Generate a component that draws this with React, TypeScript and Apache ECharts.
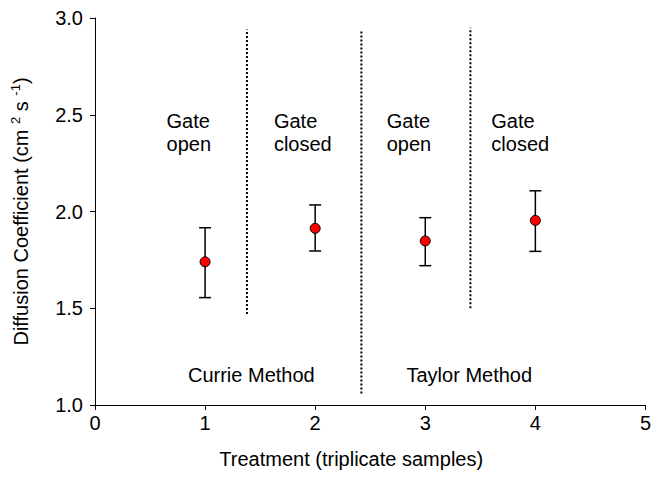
import React, { useEffect, useRef } from "react";
import * as echarts from "echarts";

const treatments = [1, 2, 3, 4];
const meanValues = [1.74, 1.913, 1.848, 1.954];
const lowerValues = [1.555, 1.796, 1.72, 1.794];
const upperValues = [1.916, 2.034, 1.968, 2.107];

const dividerX = [1.38, 2.42, 3.41];
const dividerTop = [2.94, 2.94, 2.95];
const dividerBottom = [1.47, 1.06, 1.5];

const gateLabels = ["Gate\nopen", "Gate\nclosed", "Gate\nopen", "Gate\nclosed"];
const gateLabelX = [0.65, 1.625, 2.65, 3.6];
const gateLabelY = [2.41, 2.41, 2.41, 2.41];

const methodLabels = ["Currie Method", "Taylor Method"];
const methodLabelX = [1.42, 3.4];
const methodLabelY = [1.155, 1.155];

const xTicks = [0, 1, 2, 3, 4, 5];
const yTicks = [1.0, 1.5, 2.0, 2.5, 3.0];

const FONT = "Liberation Sans, Arial, sans-serif";
const FS = 20;

export default function App() {
  const ref = useRef<HTMLDivElement>(null);
  useEffect(() => {
    if (!ref.current) return;
    const chart = echarts.init(ref.current, undefined, { renderer: "svg" });

    const dividerSeries = dividerX.map((x, i) => ({
      type: "line",
      data: [
        [x, dividerBottom[i]],
        [x, dividerTop[i]],
      ],
      symbol: "none",
      silent: true,
      lineStyle: { color: "#000", width: 2, type: [2, 2] },
      z: 2,
    }));

    chart.setOption({
      animation: false,
      textStyle: { fontFamily: FONT },
      grid: { left: 95, right: 6, top: 18, bottom: 81 },
      xAxis: {
        type: "value",
        min: xTicks[0],
        max: xTicks[xTicks.length - 1],
        interval: 1,
        splitLine: { show: false },
        axisLine: { onZero: false, lineStyle: { color: "#000", width: 1 } },
        axisTick: { show: true, inside: false, length: 5, lineStyle: { color: "#000" } },
        axisLabel: { color: "#000", fontSize: FS, fontFamily: FONT, margin: 8 },
        name: "Treatment (triplicate samples)",
        nameLocation: "middle",
        nameGap: 44,
        nameTextStyle: { color: "#000", fontSize: FS, fontFamily: FONT, padding: [0, 38, 0, 0] },
      },
      yAxis: {
        type: "value",
        min: yTicks[0],
        max: yTicks[yTicks.length - 1],
        interval: 0.5,
        splitLine: { show: false },
        axisLine: { show: true, lineStyle: { color: "#000", width: 1 } },
        axisTick: { show: true, inside: false, length: 5, lineStyle: { color: "#000" } },
        axisLabel: {
          color: "#000",
          fontSize: FS,
          fontFamily: FONT,
          margin: 12,
          formatter: (v: number) => v.toFixed(1),
        },
        name: "Diffusion Coefficient (cm {sup|2} s {sup|-1})",
        nameLocation: "middle",
        nameRotate: 90,
        nameGap: 62,
        nameTextStyle: {
          color: "#000",
          fontSize: FS,
          fontFamily: FONT,
          lineHeight: 24,
          rich: {
            sup: { fontSize: 13, fontFamily: FONT, color: "#000", verticalAlign: "top", lineHeight: 24 },
          },
        },
      },
      series: [
        ...dividerSeries,
        {
          type: "custom",
          name: "errors",
          silent: true,
          z: 3,
          data: treatments.map((t, i) => [t, lowerValues[i], upperValues[i]]),
          renderItem: (params: any, api: any) => {
            const x = api.value(0);
            const lo = api.coord([x, api.value(1)]);
            const hi = api.coord([x, api.value(2)]);
            const w = 6;
            const style = { stroke: "#000", lineWidth: 1.5 };
            return {
              type: "group",
              children: [
                { type: "line", shape: { x1: lo[0], y1: lo[1], x2: hi[0], y2: hi[1] }, style },
                { type: "line", shape: { x1: hi[0] - w, y1: hi[1], x2: hi[0] + w, y2: hi[1] }, style },
                { type: "line", shape: { x1: lo[0] - w, y1: lo[1], x2: lo[0] + w, y2: lo[1] }, style },
              ],
            };
          },
        },
        {
          type: "scatter",
          name: "mean",
          z: 5,
          symbol: "circle",
          symbolSize: 10,
          itemStyle: { color: "#ff0000", borderColor: "#000", borderWidth: 1, opacity: 1 },
          data: treatments.map((t, i) => [t, meanValues[i]]),
        },
        {
          type: "scatter",
          name: "gateLabels",
          silent: true,
          symbolSize: 0,
          itemStyle: { opacity: 1 },
          data: gateLabels.map((s, i) => [gateLabelX[i], gateLabelY[i], s]),
          label: {
            show: true,
            position: "inside",
            align: "left",
            verticalAlign: "middle",
            color: "#000",
            opacity: 1,
            fontSize: FS,
            fontFamily: FONT,
            lineHeight: 23,
            formatter: (p: any) => p.data[2],
          },
        },
        {
          type: "scatter",
          name: "methodLabels",
          silent: true,
          symbolSize: 0,
          itemStyle: { opacity: 1 },
          data: methodLabels.map((s, i) => [methodLabelX[i], methodLabelY[i], s]),
          label: {
            show: true,
            position: "inside",
            align: "center",
            verticalAlign: "middle",
            color: "#000",
            opacity: 1,
            fontSize: FS,
            fontFamily: FONT,
            formatter: (p: any) => p.data[2],
          },
        },
      ],
    });
    return () => chart.dispose();
  }, []);
  return (
    <div
      ref={ref}
      style={{ position: "fixed", left: 0, top: 0, width: 654, height: 486, background: "#fff" }}
    />
  );
}
